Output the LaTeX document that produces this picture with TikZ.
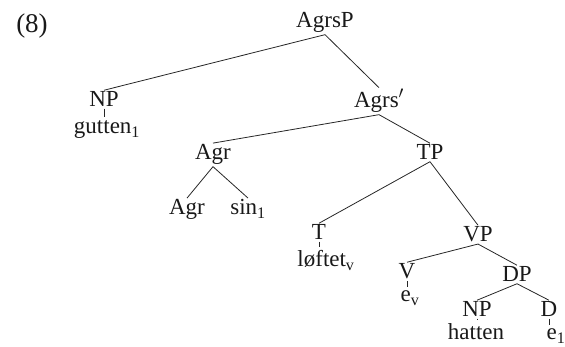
\documentclass[tikz,border=0pt]{standalone}
\usepackage{fontspec}
\setmainfont{Liberation Serif}
\begin{document}
\begin{tikzpicture}[x=1pt,y=-1pt,
  lab/.style={anchor=base,inner sep=1.5pt,font=\fontsize{23}{27}\selectfont,text=black!90},
  edge/.style={draw=black!85,line width=0.8pt},
  tick/.style={draw=black!85,line width=0.8pt,shorten >=2pt}]
\useasboundingbox (0,0) rectangle (565,347);
\node[lab,font=\fontsize{27}{30}\selectfont] (num) at (32,33) {(8)};
\node[lab] (agrsp) at (325,28) {AgrsP};
\node[lab] (np1) at (104,107) {NP};
\node[lab] (gutten) at (107,134) {gutten\textsubscript{1}};
\node[lab] (agrsbar) at (379,108) {Agrs$'$};
\node[lab] (agr) at (213,160) {Agr};
\node[lab] (agrh) at (187,215) {Agr};
\node[lab] (sin) at (248,215) {sin\textsubscript{1}};
\node[lab] (tp) at (430,160) {TP};
\node[lab] (t) at (319,240) {T};
\node[lab] (loftet) at (326,267) {løftet\textsubscript{v}};
\node[lab] (vp) at (478,242) {VP};
\node[lab] (v) at (407,279) {V};
\node[lab] (ev) at (410,302) {e\textsubscript{v}};
\node[lab] (dp) at (517,282) {DP};
\node[lab] (np2) at (477,317) {NP};
\node[lab] (hatten) at (476,340) {hatten};
\node[lab] (d) at (549,317) {D};
\node[lab] (e1) at (556,340) {e\textsubscript{1}};
\draw[edge] (agrsp.south) -- (np1.north);
\draw[edge] (agrsp.south) -- (agrsbar.north);
\draw[tick] (np1.south) -- (np1.south |- gutten.north);
\draw[edge] (agrsbar.south) -- (agr.north);
\draw[edge] (agrsbar.south) -- (tp.north);
\draw[edge] (agr.south) -- (agrh.north);
\draw[edge] (agr.south) -- (sin.north);
\draw[edge] (tp.south) -- (t.north);
\draw[edge] (tp.south) -- (vp.north);
\draw[tick] (t.south) -- (t.south |- loftet.north);
\draw[edge] (vp.south) -- (v.north);
\draw[edge] (vp.south) -- (dp.north);
\draw[tick] (v.south) -- (v.south |- ev.north);
\draw[edge] (dp.south) -- (np2.north);
\draw[edge] (dp.south) -- (d.north);
\draw[tick] (np2.south) -- (np2.south |- hatten.north);
\draw[tick] (d.south) -- (d.south |- e1.north);
\end{tikzpicture}
\end{document}
